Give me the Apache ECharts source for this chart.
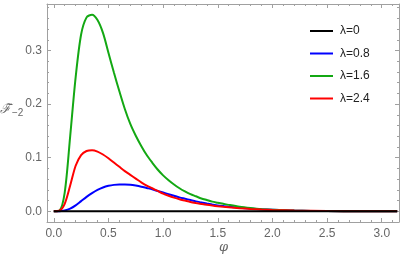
<!DOCTYPE html>
<html><head><meta charset="utf-8">
<script src="https://cdn.jsdelivr.net/npm/echarts@6/dist/echarts.min.js"></script>
<style>html,body{margin:0;padding:0;background:#fff}#c{width:405px;height:257px}</style>
</head><body><div id="c"></div>
<script>
const phi = [0,0.05,0.1,0.15,0.2,0.25,0.3,0.35,0.4,0.45,0.5,0.55,0.6,0.65,0.7,0.75,0.8,0.85,0.9,0.95,1.0,1.05,1.1,1.15,1.2,1.25,1.3,1.35,1.4,1.45,1.5,1.55,1.6,1.7,1.8,1.9,2.0,2.2,2.5,2.8,3.14159];
const lam0 = [0,0,0,0,0,0,0,0,0,0,0,0,0,0,0,0,0,0,0,0,0,0,0,0,0,0,0,0,0,0,0,0,0,0,0,0,0,0,0,0,0];
const lam08 = [0,0,0.0015,0.005,0.011,0.019,0.027,0.034,0.040,0.0445,0.0475,0.0493,0.050,0.050,0.0495,0.048,0.046,0.0435,0.041,0.038,0.035,0.032,0.029,0.026,0.0235,0.021,0.0185,0.0165,0.0145,0.0127,0.011,0.0097,0.0085,0.0066,0.005,0.0037,0.0027,0.0013,0.0004,0.0001,0];
const lam16 = [0,0.001,0.035,0.14,0.25,0.33,0.362,0.367,0.357,0.333,0.296,0.259,0.224,0.191,0.163,0.141,0.122,0.105,0.091,0.078,0.067,0.058,0.050,0.043,0.037,0.032,0.028,0.024,0.021,0.018,0.016,0.014,0.012,0.0085,0.006,0.004,0.0028,0.0013,0.0004,0.0001,0];
const lam24 = [0,0.001,0.014,0.048,0.085,0.105,0.1125,0.114,0.1115,0.106,0.099,0.091,0.083,0.075,0.068,0.061,0.054,0.048,0.043,0.038,0.033,0.029,0.0255,0.0225,0.020,0.0175,0.0155,0.0137,0.012,0.0106,0.0094,0.0084,0.0075,0.0058,0.0045,0.0034,0.0025,0.0013,0.0004,0.0001,0];
const names = ['λ=0','λ=0.8','λ=1.6','λ=2.4'];
const colors = ['#000000','#0000ff','#13a813','#ff0000'];
const xTicks = [0,0.5,1.0,1.5,2.0,2.5,3.0];
const yTicks = [0,0.1,0.2,0.3];

const xMinor = []; for (let i = 0; i <= 31; i++) { if (i % 5) xMinor.push(i/10); }
const yMinor = []; for (let i = -1; i <= 19; i++) { if (i % 5) yMinor.push(i*0.02); }

const XMIN = -0.062, XMAX = 3.158, YMIN = -0.02, YMAX = 0.387;
const gray = '#a0a0a0', lab = '#666666';
const gridPos = {left:47, top:4, right:6, bottom:35};

function xa(gi, pos, vals, len, labels) {
  return {type:'value', gridIndex:gi, position:pos, min:XMIN, max:XMAX,
    axisLine:{show:gi===0, onZero:false, lineStyle:{color:gray, width:1}},
    axisTick:{show:true, inside:true, length:len, customValues:vals, lineStyle:{color:gray}},
    axisLabel:{show:labels, customValues:vals, color:lab, fontSize:12, fontFamily:'Liberation Sans', margin:6,
      formatter:v=>v.toFixed(1)},
    splitLine:{show:false}};
}
function ya(gi, pos, vals, len, labels) {
  return {type:'value', gridIndex:gi, position:pos, min:YMIN, max:YMAX,
    axisLine:{show:gi===0, onZero:false, lineStyle:{color:gray, width:1}},
    axisTick:{show:true, inside:true, length:len, customValues:vals, lineStyle:{color:gray}},
    axisLabel:{show:labels, customValues:vals, color:lab, fontSize:12, fontFamily:'Liberation Sans', margin:5,
      formatter:v=>v.toFixed(1)},
    splitLine:{show:false}};
}
const seriesData = [lam0, lam08, lam16, lam24];
const chart = echarts.init(document.getElementById('c'), null, {renderer:'canvas'});
chart.setOption({
  animation:false,
  grid:[Object.assign({}, gridPos), Object.assign({}, gridPos)],
  xAxis:[xa(0,'bottom',xTicks,4,true), xa(0,'top',xTicks,4,false), xa(1,'bottom',xMinor,2,false), xa(1,'top',xMinor,2,false)],
  yAxis:[ya(0,'left',yTicks,4,true), ya(0,'right',yTicks,4,false), ya(1,'left',yMinor,2,false), ya(1,'right',yMinor,2,false)],
  legend:{orient:'vertical', left:305, top:20, itemWidth:23, itemHeight:2, itemGap:10.5, icon:'rect',
    textStyle:{fontSize:12, color:'#222', fontFamily:'Liberation Sans', padding:[0,0,0,2]}, data:names},
  series: seriesData.map((d,i)=>({
    name:names[i], type:'line', xAxisIndex:0, yAxisIndex:0, showSymbol:false, smooth:0.3,
    data: phi.map((p,k)=>[p,d[k]]),
    lineStyle:{color:colors[i], width:2}, itemStyle:{color:colors[i]}, z: i===0?5:3
  })),
  graphic:[
    {type:'text', left:0, top:103, style:{text:'{a|ℱ̃}{b|−2}', rich:{
      a:{fontSize:13, fontFamily:'DejaVu Serif', fontStyle:'italic', fill:lab},
      b:{fontSize:10, fontFamily:'Liberation Sans', fill:lab, padding:[7,0,0,1]}}}},
    {type:'text', left:219, top:241, style:{text:'φ', fontSize:13, fontStyle:'italic', fontFamily:'DejaVu Serif', fill:lab}}
  ]
});
</script></body></html>
